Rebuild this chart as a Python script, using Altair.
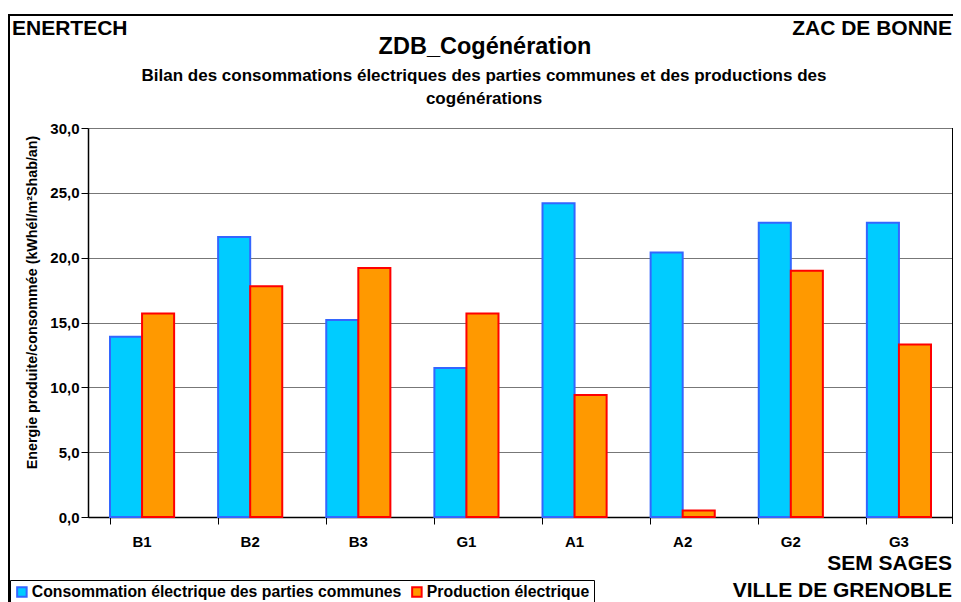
import altair as alt
import pandas as pd

categories = ["B1", "B2", "B3", "G1", "A1", "A2", "G2", "G3"]
series_names = ["Consommation électrique des parties communes", "Production électrique"]
conso = [13.9, 21.6, 15.2, 11.5, 24.2, 20.4, 22.7, 22.7]
prod = [15.7, 17.8, 19.2, 15.7, 9.4, 0.5, 19.0, 13.3]
y_ticks = [0, 5, 10, 15, 20, 25, 30]

rows = []
for c, a, b in zip(categories, conso, prod):
    rows.append({"cat": c, "serie": series_names[0], "val": a})
    rows.append({"cat": c, "serie": series_names[1], "val": b})
df = pd.DataFrame(rows)

W, H = 865, 389
FONT = "Liberation Sans"

xscale = alt.Scale(domain=categories, paddingInner=0.407, paddingOuter=0.2035)

legend_kw = dict(title=None, orient="none", direction="horizontal",
                 legendX=-78, legendY=452, labelLimit=600,
                 labelFont=FONT, labelFontSize=15.8, labelFontWeight="bold",
                 labelColor="black", symbolType="square", symbolSize=90,
                 symbolStrokeWidth=2, labelOffset=2, columnPadding=6,
                 padding=4, strokeColor="black", fillColor="white")

bars = alt.Chart(df).mark_bar(strokeWidth=2).encode(
    x=alt.X("cat:N", scale=xscale, sort=categories, title=None,
            axis=alt.Axis(bandPosition=0, labelAngle=0,
                          labelFont=FONT, labelFontSize=15, labelFontWeight="bold",
                          labelColor="black", labelPadding=10, tickSize=7,
                          tickColor="black", domainColor="black", domainWidth=1.5,
                          grid=False)),
    xOffset=alt.XOffset("serie:N", sort=series_names, scale=alt.Scale(domain=series_names, padding=0)),
    y=alt.Y("val:Q", scale=alt.Scale(domain=[0, 30], nice=False),
            title="Energie produite/consommée (kWhél/m²Shab/an)",
            axis=alt.Axis(values=y_ticks, labelExpr="replace(format(datum.value, '.1f'), '.', ',')",
                          labelFont=FONT, labelFontSize=15, labelFontWeight="bold",
                          labelColor="black", labelPadding=2, tickSize=7,
                          tickColor="black", domainColor="black", domainWidth=1.5,
                          grid=True, gridColor="#777777", gridWidth=1,
                          titleFont=FONT, titleFontSize=14.3, titleFontWeight="bold",
                          titleColor="black", titleX=-56, titleY=174,
                          titleAlign="center", titleBaseline="middle")),
    fill=alt.Fill("serie:N", sort=series_names,
                  scale=alt.Scale(domain=series_names, range=["#00CCFF", "#FF9900"]),
                  legend=alt.Legend(**legend_kw)),
    stroke=alt.Stroke("serie:N", sort=series_names,
                      scale=alt.Scale(domain=series_names, range=["#3366FF", "#FF0000"]),
                      legend=alt.Legend(**legend_kw)),
)

frame = alt.Chart(df).mark_rect(fill=None, stroke="black", strokeWidth=2).encode(
    x=alt.value(-79), x2=alt.value(W + 40), y=alt.value(-113), y2=alt.value(H + 120)
)

right_border = alt.Chart(df).mark_rule(color="black", strokeWidth=1.5).encode(
    x=alt.value(W), y=alt.value(0), y2=alt.value(H + 7)
)


def txt(s, x, y, size, align="left"):
    return alt.Chart(pd.DataFrame({"t": [s]})).mark_text(
        font=FONT, fontSize=size, fontWeight="bold", color="black", align=align, baseline="middle"
    ).encode(text="t:N", x=alt.value(x), y=alt.value(y))


texts = [
    txt("ENERTECH", 12 - 88, 29 - 128, 21),
    txt("ZAC DE BONNE", 952 - 88, 29 - 128, 21, "right"),
    txt("ZDB_Cogénération", 485 - 88, 47 - 128, 23.5, "center"),
    txt("Bilan des consommations électriques des parties communes et des productions des",
        484 - 88, 76 - 128, 17, "center"),
    txt("cogénérations", 484 - 88, 99 - 128, 17, "center"),
    txt("SEM SAGES", 952 - 88, 564 - 128, 21, "right"),
    txt("VILLE DE GRENOBLE", 952 - 88, 591 - 128, 21, "right"),
]

chart = alt.layer(frame, bars, right_border, *texts).properties(
    width=W, height=H,
    autosize=alt.AutoSizeParams(type="none"),
    padding={"left": 80, "top": 120, "right": 0, "bottom": 86},
).configure_view(stroke=None).configure(background="white")

chart.save("out.html", embed_options={"renderer": "svg", "actions": False})
